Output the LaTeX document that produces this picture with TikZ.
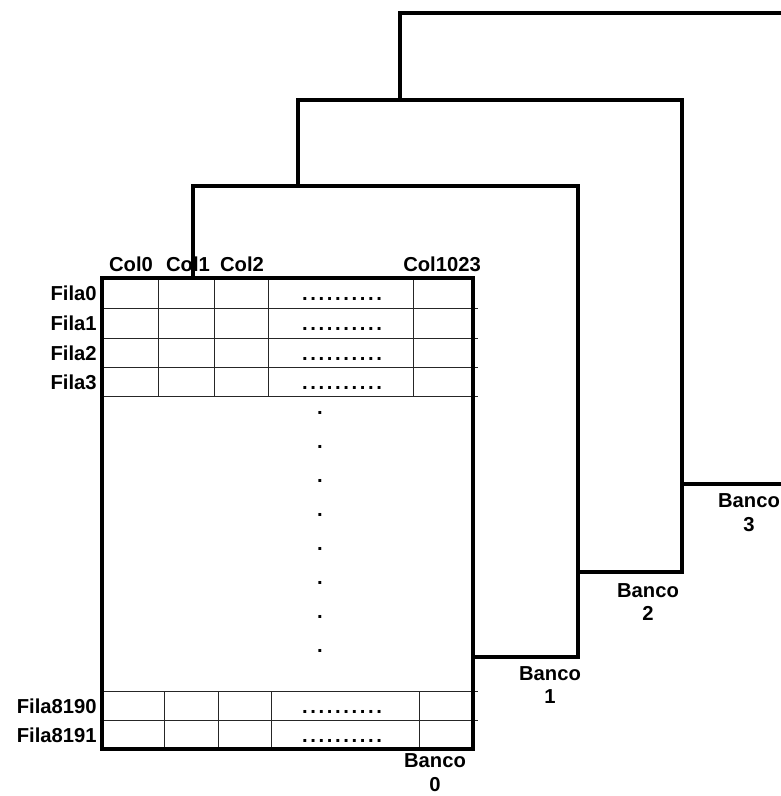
\documentclass[tikz,border=0pt]{standalone}
\usepackage{fontspec}
\setmainfont{Liberation Sans}
\usetikzlibrary{positioning}
\newcommand{\puntos}{.\kern1.5pt.\kern1.5pt.\kern1.5pt.\kern1.5pt.\kern1.5pt.\kern1.5pt.\kern1.5pt.\kern1.5pt.\kern1.5pt.}
\begin{document}
\begin{tikzpicture}[x=0.02cm,y=-0.02cm,
  banco/.style={draw=black,line width=2.3pt,fill=white},
  celda/.style={draw=black!85,line width=0.55pt},
  etiq/.style={font=\bfseries\fontsize{11.5}{13.6}\selectfont,inner sep=0pt},
  rotulo/.style={etiq,align=center}
]
\useasboundingbox (0,0) rectangle (781,796);
\clip (0,0) rectangle (781,796);
% bancos del fondo
\draw[banco] (400,13) rectangle (820,484);
\draw[banco] (298,100) rectangle (682,572);
\draw[banco] (193,186) rectangle (578,657);
% banco 0 con sus celdas
\fill[white] (102,278) rectangle (473,749);
\foreach \y in {308,338,367,396,691,720}
  \draw[celda] (102,\y) -- (478,\y);
\foreach \x in {158,214,268,413}
  \draw[celda] (\x,278) -- (\x,396);
\foreach \x in {164,218,271,419}
  \draw[celda] (\x,691) -- (\x,749);
\draw[banco,fill=none] (102,278) rectangle (473,749);
% columnas
\node[etiq,anchor=base] (col0) at (131,271.5) {Col0};
\node[etiq,anchor=base] (col1) at (188,271.5) {Col1};
\node[etiq,anchor=base] (col2) at (242,271.5) {Col2};
\node[etiq,anchor=base] (col1023) at (442,271.5) {Col1023};
% filas
\foreach \y/\n in {293/0,323/1,352.5/2,381.5/3,705.5/8190,734.5/8191}{
  \node[etiq,anchor=base east] (fila\n) at (97,\y+7.5) {Fila\n};
  \node[etiq,anchor=base] (pts\n) at (342,\y+7.5) {\puntos};
}
% puntos verticales
\foreach \y [count=\i] in {413,447,481,515,549,583,617,651}
  \node[etiq,anchor=base] (vp\i) at (320,\y+1.5) {.};
% rotulos de los bancos
\node[rotulo] (banco0) at (435,773) {Banco\\0};
\node[rotulo] (banco1) at (550,685) {Banco\\1};
\node[rotulo] (banco2) at (648,602) {Banco\\2};
\node[rotulo] (banco3) at (749,513) {Banco\\3};
\end{tikzpicture}
\end{document}
